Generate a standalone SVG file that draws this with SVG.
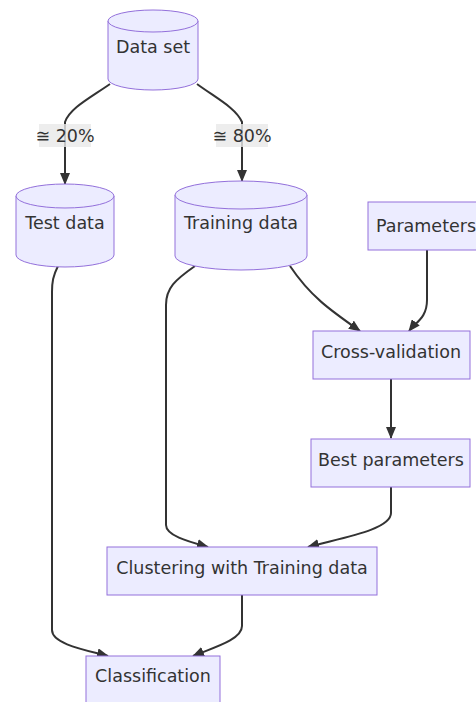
<svg xmlns="http://www.w3.org/2000/svg" width="476" height="702" viewBox="0 0 476 702">
<style>
.n{fill:#ECECFF;stroke:#9370DB;stroke-width:1}
.t{font-family:"DejaVu Sans",Verdana,sans-serif;font-size:17.5px;fill:#333;text-anchor:middle;dominant-baseline:central}
.e{fill:none;stroke:#333;stroke-width:2}
.lb{fill:#E8E8E8;opacity:0.8}
</style>
<defs>
<marker id="ah" viewBox="0 0 12 10" refX="11" refY="5" markerWidth="12" markerHeight="10" markerUnits="userSpaceOnUse" orient="auto">
<path d="M0,0 L12,5 L0,10 z" fill="#333"/>
</marker>
</defs>
<rect width="476" height="702" fill="#fff"/>
<g id="edges">
<path class="e" d="M110,84 C90,98 70,108 65,122 L65,184" marker-end="url(#ah)"/>
<path class="e" d="M197,84 C216,98 236,108 242,122 L242,181" marker-end="url(#ah)"/>
<path class="e" d="M290,266 C310,296 330,310 360,331" marker-end="url(#ah)"/>
<path class="e" d="M427,250 L427,300 C427,318 416,322 409,331" marker-end="url(#ah)"/>
<path class="e" d="M391,379 L391,438" marker-end="url(#ah)"/>
<path class="e" d="M391,487 L391,513 C391,530 340,538 308,547" marker-end="url(#ah)"/>
<path class="e" d="M195,266 C175,280 166,288 166,305 L166,525 C166,536 190,542 208,547" marker-end="url(#ah)"/>
<path class="e" d="M58,266 C53,276 52,282 52,292 L52,630 C52,644 85,650 108,656" marker-end="url(#ah)"/>
<path class="e" d="M242,595 L242,626 C242,640 212,648 193,656" marker-end="url(#ah)"/>
<rect class="lb" x="39" y="124" width="52" height="23"/>
<text class="t" x="65" y="136">≅ 20%</text>
<rect class="lb" x="216" y="124" width="52" height="23"/>
<text class="t" x="242" y="136">≅ 80%</text>
</g>
<g id="dataset">
<path class="n" d="M108,21 A45,11 0 0 1 198,21 L198,79 A45,11 0 0 1 108,79 Z"/>
<path class="n" d="M108,21 A45,11 0 0 0 198,21" fill="none"/>
<text class="t" x="153" y="47">Data set</text>
</g>
<g id="testdata">
<path class="n" d="M16,196 A49,12 0 0 1 114,196 L114,255 A49,12 0 0 1 16,255 Z"/>
<path class="n" d="M16,196 A49,12 0 0 0 114,196" fill="none"/>
<text class="t" x="65" y="223">Test data</text>
</g>
<g id="trainingdata">
<path class="n" d="M175,195 A66,14 0 0 1 307,195 L307,256 A66,14 0 0 1 175,256 Z"/>
<path class="n" d="M175,195 A66,14 0 0 0 307,195" fill="none"/>
<text class="t" x="241" y="223">Training data</text>
</g>
<g id="parameters">
<rect class="n" x="368" y="202" width="116" height="48"/>
<text class="t" x="426" y="226">Parameters</text>
</g>
<g id="crossvalidation">
<rect class="n" x="313" y="331" width="157" height="48"/>
<text class="t" x="391" y="352">Cross-validation</text>
</g>
<g id="bestparameters">
<rect class="n" x="311" y="439" width="159" height="48"/>
<text class="t" x="391" y="460">Best parameters</text>
</g>
<g id="clustering">
<rect class="n" x="107" y="547" width="270" height="48"/>
<text class="t" x="242" y="568">Clustering with Training data</text>
</g>
<g id="classification">
<rect class="n" x="86" y="656" width="134" height="48"/>
<text class="t" x="153" y="676">Classification</text>
</g>
</svg>
